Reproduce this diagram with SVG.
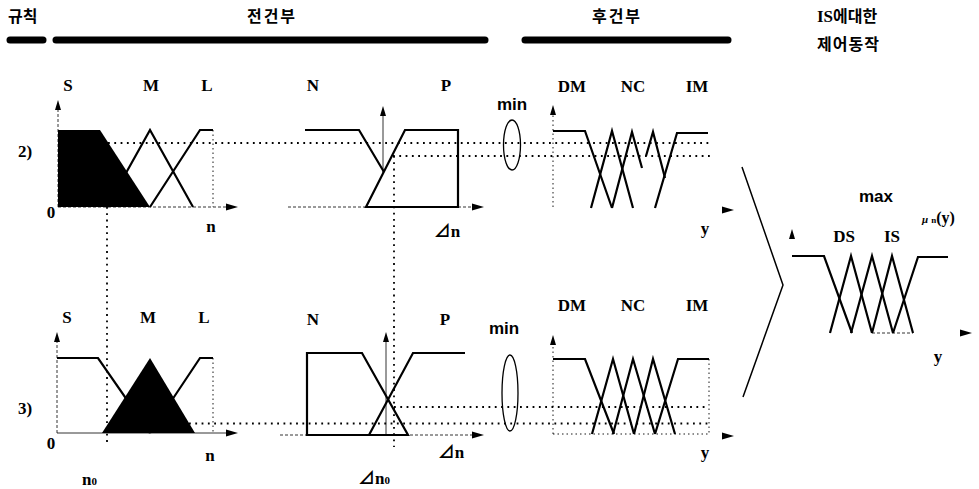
<svg xmlns="http://www.w3.org/2000/svg" xmlns:xlink="http://www.w3.org/1999/xlink" width="979" height="489" viewBox="0 0 979 489">
<style>
.thick{stroke:#000;stroke-width:2.2;fill:none;stroke-linejoin:miter}
.thin{stroke:#000;stroke-width:0.8;fill:none}
.dthin{stroke:#000;stroke-width:0.8;fill:none;stroke-dasharray:3 2}
.dot{stroke:#000;stroke-width:1.8;fill:none;stroke-dasharray:1.8 4.5}
.tdot{stroke:#000;stroke-width:0.9;fill:none;stroke-dasharray:1.5 3}
.bar{stroke:#000;stroke-width:7;stroke-linecap:round}
.lbl{font-family:"Liberation Serif","Noto Sans CJK KR",serif;font-weight:bold;font-size:17px;fill:#000}
.sans{font-family:"Liberation Sans",Arial,sans-serif;font-weight:bold;font-size:17px;fill:#000}
.kr{font-family:"Noto Sans CJK KR","Liberation Sans",sans-serif;font-weight:bold;font-size:16px;fill:#000}
.ell{stroke:#000;stroke-width:1.3;fill:none}
</style>
<defs>
<path id="ah" d="M-12,-3.5 L0,0 L-12,3.5 z" fill="#000"/>
<path id="au" d="M-3,10 L0,0 L3,10 z" fill="#000"/>
</defs>

<g id="header">
<text class="kr" x="8" y="22" font-size="17">규칙</text>
<text class="kr" x="272" y="22" text-anchor="middle" font-size="17" letter-spacing="2">전건부</text>
<text class="kr" x="617" y="22" text-anchor="middle" font-size="17" letter-spacing="2">후건부</text>
<text class="lbl" x="817" y="22" font-size="16">IS<tspan class="kr" font-size="16">에대한</tspan></text>
<text class="kr" x="817" y="50" font-size="16" letter-spacing="1">제어동작</text>
<line class="bar" x1="10" y1="40" x2="43" y2="40"/>
<line class="bar" x1="56" y1="40" x2="485" y2="40"/>
<line class="bar" x1="525" y1="40" x2="728" y2="40"/>
<text class="lbl" x="18" y="157">2)</text>
<text class="lbl" x="18" y="414">3)</text>
</g>

<g id="r2-n">
<polygon points="58,130 100,130 150,207 58,207" fill="#000"/>
<polyline class="thick" points="107,207 150,130 193,207"/>
<polyline class="thick" points="150,207 200,130 213,130"/>
<line class="dthin" x1="58" y1="207" x2="58" y2="108"/>
<use xlink:href="#au" x="58" y="100"/>
<line class="dthin" x1="58" y1="207" x2="228" y2="207"/>
<use xlink:href="#ah" x="238" y="207"/>
<line class="tdot" x1="213" y1="130" x2="213" y2="207"/>
<text class="lbl" x="68" y="91" text-anchor="middle">S</text>
<text class="lbl" x="151" y="91" text-anchor="middle">M</text>
<text class="lbl" x="207" y="91" text-anchor="middle">L</text>
<text class="lbl" x="51" y="218" text-anchor="middle" font-size="10">0</text>
<text class="lbl" x="211" y="232" text-anchor="middle" font-size="18">n</text>
</g>

<g id="r2-dn">
<polyline class="thick" points="305,130 359,130 384,172"/>
<polygon class="thick" points="366,207 405,130 458,130 458,207"/>
<line class="thin" x1="383" y1="173" x2="383" y2="114"/>
<use xlink:href="#au" x="383" y="106"/>
<line class="dthin" x1="288" y1="207" x2="474" y2="207"/>
<use xlink:href="#ah" x="484" y="207"/>
<text class="lbl" x="313" y="91" text-anchor="middle">N</text>
<text class="lbl" x="446" y="91" text-anchor="middle">P</text>
<text class="lbl" x="447" y="237" text-anchor="middle" font-size="18">⊿n</text>
</g>

<g id="r2-min">
<ellipse class="ell" cx="512" cy="145" rx="8.5" ry="25"/>
<text class="sans" x="512" y="110" text-anchor="middle">min</text>
</g>

<g id="r2-y">
<line class="tdot" x1="553" y1="207" x2="553" y2="114"/>
<use xlink:href="#au" x="553" y="105"/>
<polyline class="thick" points="553,131 585,131 612,208"/>
<polyline class="thick" points="591,208 612,131 633,208"/>
<polyline class="thick" points="612,208 632,132 642,168"/>
<polyline class="thick" points="646,156 653,132 665,178"/>
<polyline class="thick" points="655,208 677,133 708,133"/>
<use xlink:href="#ah" x="734" y="210"/>
<text class="lbl" x="572" y="92" text-anchor="middle">DM</text>
<text class="lbl" x="633" y="92" text-anchor="middle">NC</text>
<text class="lbl" x="697" y="92" text-anchor="middle">IM</text>
<text class="lbl" x="705" y="234" text-anchor="middle" font-size="18">y</text>
</g>

<g id="r3-n">
<polyline class="thick" points="57,358 98,358 150,433"/>
<polyline class="thick" points="150,433 200,358 213,358"/>
<polygon points="102,433 150,358 195,433" fill="#000"/>
<line class="dthin" x1="57" y1="433" x2="57" y2="340"/>
<use xlink:href="#au" x="57" y="332"/>
<line class="thin" x1="57" y1="433" x2="228" y2="433"/>
<use xlink:href="#ah" x="238" y="433"/>
<line class="tdot" x1="213" y1="358" x2="213" y2="433"/>
<text class="lbl" x="67" y="323" text-anchor="middle">S</text>
<text class="lbl" x="148" y="323" text-anchor="middle">M</text>
<text class="lbl" x="204" y="323" text-anchor="middle">L</text>
<text class="lbl" x="51" y="449" text-anchor="middle" font-size="10">0</text>
<text class="lbl" x="210" y="461" text-anchor="middle" font-size="18">n</text>
<text class="lbl" x="82" y="485" font-size="17">n<tspan font-size="11">0</tspan></text>
</g>

<g id="r3-dn">
<polygon class="thick" points="307,435 307,353 362,353 408,435"/>
<polyline class="thick" points="369,435 413,353 465,353"/>
<line class="thin" x1="386" y1="435" x2="386" y2="340"/>
<use xlink:href="#au" x="386" y="332"/>
<line class="dthin" x1="280" y1="435" x2="474" y2="435"/>
<use xlink:href="#ah" x="484" y="435"/>
<text class="lbl" x="313" y="325" text-anchor="middle">N</text>
<text class="lbl" x="445" y="325" text-anchor="middle">P</text>
<text class="lbl" x="451" y="458" text-anchor="middle" font-size="18">⊿n</text>
<text class="lbl" x="358" y="484" font-size="16">⊿n<tspan font-size="11">0</tspan></text>
</g>

<g id="r3-min">
<ellipse class="ell" cx="510" cy="393" rx="8" ry="38"/>
<text class="sans" x="504" y="334" text-anchor="middle">min</text>
</g>

<g id="r3-y">
<line class="tdot" x1="553" y1="434" x2="553" y2="343"/>
<use xlink:href="#au" x="553" y="335"/>
<line class="tdot" x1="553" y1="434" x2="709" y2="434"/>
<line class="tdot" x1="709" y1="359" x2="709" y2="434"/>
<polyline class="thick" points="553,359 585,359 614,434"/>
<polyline class="thick" points="592,434 613,359 634,434"/>
<polyline class="thick" points="613,434 633,359 655,434"/>
<polyline class="thick" points="634,434 653,359 675,434"/>
<polyline class="thick" points="655,434 678,359 709,359"/>
<use xlink:href="#ah" x="734" y="436"/>
<text class="lbl" x="572" y="311" text-anchor="middle">DM</text>
<text class="lbl" x="633" y="311" text-anchor="middle">NC</text>
<text class="lbl" x="697" y="311" text-anchor="middle">IM</text>
<text class="lbl" x="705" y="458" text-anchor="middle" font-size="18">y</text>
</g>

<g id="result">
<use xlink:href="#au" x="792" y="229"/>
<polyline class="thick" points="792,256 824,256 852,333"/>
<polyline class="thick" points="830,333 851,256 872,333"/>
<polyline class="thick" points="851,333 872,256 893,333"/>
<polyline class="thick" points="872,333 892,256 913,333"/>
<polyline class="thick" points="893,333 918,257 948,257"/>
<line class="dthin" x1="872" y1="333" x2="913" y2="333"/>
<use xlink:href="#ah" x="972" y="333"/>
<text class="sans" x="876" y="202" text-anchor="middle">max</text>
<text class="lbl" x="844" y="242" text-anchor="middle">DS</text>
<text class="lbl" x="892" y="242" text-anchor="middle">IS</text>
<text class="lbl" x="922" y="223" font-size="16"><tspan font-size="11" font-style="italic">μ</tspan><tspan font-size="9" dx="3">n</tspan><tspan font-size="16">(y)</tspan></text>
<text class="lbl" x="938" y="362" text-anchor="middle" font-size="18">y</text>
</g>

<g id="connectors">
<line class="dot" x1="108" y1="143" x2="712" y2="143"/>
<line class="dot" x1="393" y1="156" x2="712" y2="156"/>
<line class="dot" x1="394" y1="407" x2="709" y2="407"/>
<line class="dot" x1="189" y1="423.5" x2="709" y2="423.5"/>
<line class="dot" x1="107" y1="207" x2="107" y2="445"/>
<line class="dot" x1="394" y1="156" x2="394" y2="447"/>
<polyline points="742,167 783,285 743,397" fill="none" stroke="#000" stroke-width="1.5"/>
</g>
</svg>
